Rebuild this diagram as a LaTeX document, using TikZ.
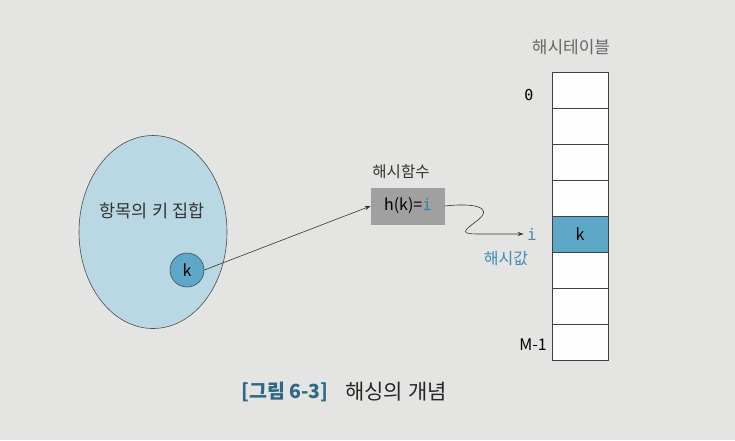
\documentclass[tikz,border=0pt]{standalone}
\usepackage{fontspec}
\setmainfont{Noto Sans CJK KR}
\newfontfamily\kr{Noto Sans CJK KR}
\newfontfamily\mono{DejaVu Sans Mono}
\usetikzlibrary{arrows.meta,shapes.geometric}
\definecolor{bg}{RGB}{228,228,226}
\definecolor{setblue}{RGB}{186,215,228}
\definecolor{kblue}{RGB}{92,168,198}
\definecolor{txtblue}{RGB}{60,140,180}
\definecolor{capblue}{RGB}{45,105,135}
\definecolor{boxgray}{RGB}{160,160,160}
\tikzset{
  lbl/.style={font=\kr\fontsize{16}{18}\selectfont, text=black!80},
  cell/.style={draw=black!75, line width=0.6pt, minimum width=56pt, minimum height=36.1pt, inner sep=0pt, fill=white!95!bg},
  arr/.style={-{Stealth[length=6pt,width=4pt]}, line width=0.6pt, black!80},
}
\begin{document}
\begin{tikzpicture}[x=1pt,y=-1pt]
\useasboundingbox[fill=bg] (0,0) rectangle (735,440);
% key set
\node[draw=black!70, line width=0.6pt, fill=setblue, ellipse, minimum width=148pt, minimum height=193pt, inner sep=0pt] (set) at (153,232) {};
\node[lbl, font=\kr\fontsize{17.5}{20}\selectfont] (settxt) at (152,211) {항목의 키 집합};
\node[draw=black!70, line width=0.6pt, fill=kblue, circle, minimum size=34pt, inner sep=0pt, font=\kr\fontsize{16}{18}\selectfont] (k) at (187,270) {k};
% hash function
\node[draw=none, fill=boxgray, minimum width=74pt, minimum height=37pt, inner sep=0pt, font=\kr\fontsize{16}{18}\selectfont] (hf) at (408,206) {h(k)=\textcolor{txtblue!90!black}{\mono i}};
\node[lbl, font=\kr\fontsize{15.5}{18}\selectfont] (hftxt) at (401,172) {해시함수};
\draw[arr] (k.east) -- (hf.west);
% table
\foreach \r in {0,...,7} {
  \node[cell] (c\r) at (580,{90+36.1*\r}) {};
}
\node[cell, fill=kblue, font=\kr\fontsize{16}{18}\selectfont] (ck) at (c4) {k};
\node[font=\kr\fontsize{17}{20}\selectfont, text=black!60] (tt) at (571,47) {해시테이블};
\node[font=\mono\fontsize{15}{17}\selectfont] (zero) at (529,95) {0};
\node[font=\kr\fontsize{16}{18}\selectfont] (mm) at (533,345) {M-1};
\node[font=\mono\fontsize{16}{18}\selectfont, text=txtblue] (iv) at (532,234) {i};
\node[font=\kr\fontsize{16}{18}\selectfont, text=txtblue] (hv) at (506,259) {해시값};
\draw[arr] (hf.east) .. controls (470,203) and (495,206) .. (478,220) .. controls (462,232) and (460,234) .. (480,234) -- (iv.west);
% caption
\node[font=\kr\bfseries\fontsize{19.5}{22}\selectfont, text=capblue] (cap1) at (285,392) {[그림 6-3]};
\node[font=\kr\fontsize{21}{24}\selectfont, text=black!85] (cap2) at (396,392) {해싱의 개념};
\end{tikzpicture}
\end{document}
